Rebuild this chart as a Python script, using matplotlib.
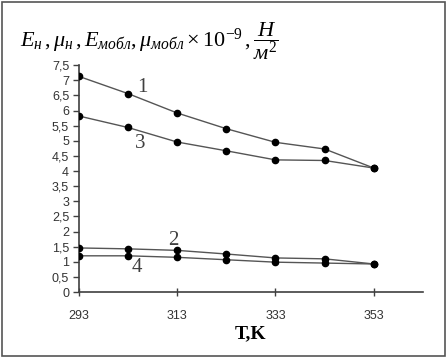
"""
Modulus vs temperature, four curves with numbered labels
"""

import matplotlib

matplotlib.use("Agg")
import matplotlib.pyplot as plt
from matplotlib.patches import Rectangle

# temperatures, K
temps = [293, 303, 313, 323, 333, 343, 353]

# curves 1-4 (values x 10^-9, N/m^2)
curve_1 = [7.13, 6.56, 5.92, 5.40, 4.95, 4.73, 4.10]
curve_2 = [1.46, 1.43, 1.38, 1.26, 1.13, 1.10, 0.93]
curve_3 = [5.82, 5.44, 4.96, 4.67, 4.37, 4.35, 4.10]
curve_4 = [1.20, 1.20, 1.15, 1.07, 0.99, 0.96, 0.93]

curve_names = ["1", "2", "3", "4"]
label_pos = [(306, 6.75), (312.3, 1.7), (305.5, 4.92), (304.8, 0.8)]

x_ticks = [293, 313, 333, 353]
y_ticks = [i * 0.5 for i in range(16)]

plt.rcParams["mathtext.fontset"] = "custom"
plt.rcParams["mathtext.rm"] = "Liberation Serif"
plt.rcParams["mathtext.it"] = "Liberation Serif:italic"
plt.rcParams["mathtext.bf"] = "Liberation Serif:bold"
plt.rcParams["font.family"] = ["Liberation Sans", "DejaVu Sans"]

fig = plt.figure(figsize=(4.48, 3.58), dpi=100)
ax = fig.add_axes([0.176, 0.184, 0.768, 0.634])

for ys in [curve_1, curve_2, curve_3, curve_4]:
    ax.plot(temps, ys, color="#555555", lw=1.0, marker="o", ms=4.5,
            mfc="black", mec="black", zorder=3)

for name, (lx, ly) in zip(curve_names, label_pos):
    ax.text(lx, ly, name, fontsize=15, family="Liberation Serif",
            color="#404040", ha="center", va="center")

ax.set_xlim(293, 363)
ax.set_ylim(0, 7.5)
ax.set_xticks(x_ticks)
ax.set_xticklabels([str(t) for t in x_ticks])
ax.set_yticks(y_ticks)
ax.set_yticklabels([f"{v:g}".replace(".", ",") for v in y_ticks])
ax.tick_params(labelsize=9, length=4, width=1, color="#404040",
               labelcolor="#333333", pad=3)
ax.tick_params(axis="x", direction="inout", length=6, pad=10)
for side in ["top", "right"]:
    ax.spines[side].set_visible(False)
for side in ["left", "bottom"]:
    ax.spines[side].set_color("#404040")
    ax.spines[side].set_linewidth(1.2)

ax.set_xlabel("T,K", family="Liberation Serif", fontweight="bold",
              fontsize=14, labelpad=2)

fig.text(0.045, 0.885,
         r"$E_{н}\,, \mu_{н}\,, E_{мобл}, \mu_{мобл} \times 10^{-9}\,, \dfrac{Н}{м^{2}}$",
         fontsize=16, ha="left", va="center")

# grey frame around the whole picture
fig.patches.append(Rectangle((0.004, 0.006), 0.99, 0.988, transform=fig.transFigure,
                             fill=False, ec="#555555", lw=1.2))

fig.savefig("out.png", dpi=100)
